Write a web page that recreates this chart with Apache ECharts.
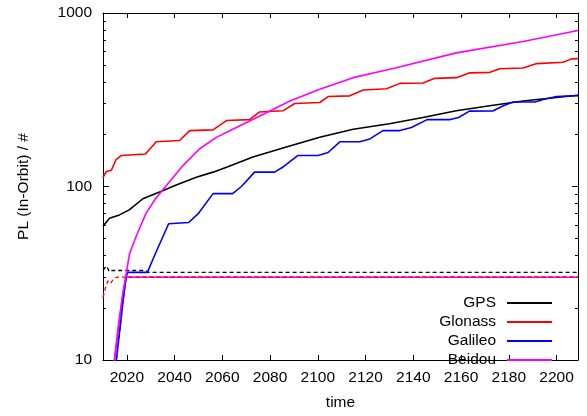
<!DOCTYPE html>
<html>
<head>
<meta charset="utf-8">
<script src="https://cdn.jsdelivr.net/npm/echarts@6/dist/echarts.min.js"></script>
<style>
  html, body { margin: 0; padding: 0; background: #fff; }
  #chart { width: 587px; height: 416px; }
</style>
</head>
<body>
<div id="chart"></div>
<script>
// tick labels
var xTicks = [2020, 2040, 2060, 2080, 2100, 2120, 2140, 2160, 2180, 2200];
var yTicks = [10, 100, 1000];
var yMinorTicks = [20, 30, 40, 50, 60, 70, 80, 90, 200, 300, 400, 500, 600, 700, 800, 900];

// PL in orbit, [year, count]
var gps = [[2010, 59], [2012.7, 65.6], [2016.9, 68.6], [2021, 73.3], [2026.7, 85], [2033.7, 93],
    [2040.7, 102], [2049.1, 113], [2056.1, 121], [2062.3, 130], [2072.8, 148], [2086.8, 169],
    [2100.8, 192], [2114.8, 214], [2130, 230], [2144, 250], [2158, 273], [2172, 292], [2186, 311], [2209, 336]];
var glonass = [[2010, 113], [2011.4, 122], [2013.5, 124], [2015.5, 143], [2017.7, 151], [2027.8, 154],
    [2032.3, 181], [2042.1, 184], [2046.3, 210], [2056.1, 212], [2061.7, 240], [2071.4, 243],
    [2075.6, 269], [2085.4, 273], [2090.3, 301], [2100.8, 305], [2104.3, 330], [2113.4, 333],
    [2119, 360], [2128.8, 366], [2134.4, 393], [2144.1, 395], [2149, 420], [2158.1, 424],
    [2163.7, 452], [2172.1, 455], [2176.2, 477], [2186, 482], [2191.7, 511], [2202.8, 520],
    [2206.3, 544], [2209, 546]];
var galileo = [[2014, 7], [2015.6, 10], [2018.6, 23], [2019.7, 30], [2020.3, 32], [2028.6, 32],
    [2031.6, 40], [2037.5, 61], [2045.9, 62], [2049.8, 69.5], [2056.1, 91], [2064.3, 91],
    [2068, 100], [2073.5, 121], [2081.9, 121], [2085.6, 130], [2091.7, 151], [2100.1, 151],
    [2104.3, 157], [2109.2, 181], [2117.6, 181], [2121.8, 188], [2127.3, 210], [2134.4, 210],
    [2139.2, 219], [2145.8, 243], [2155.5, 243], [2159, 250], [2163.5, 272], [2173.5, 273],
    [2177.7, 292], [2181.8, 307], [2191, 307], [2194.4, 317], [2200, 330], [2209, 334]];
var beidou = [[2013.5, 7], [2014.8, 10], [2016.5, 16], [2018.1, 23], [2019.5, 30], [2021.1, 41],
    [2024, 52], [2028, 70], [2032, 85], [2036.5, 101], [2043.5, 132], [2050.5, 165],
    [2057.5, 192], [2064.4, 214], [2075.7, 255], [2088.3, 311], [2100.8, 363], [2114.8, 424],
    [2132, 480], [2158, 589], [2186, 685], [2209, 793]];

// dashed reference lines
var gpsRef = [[2010, 33], [2011.5, 34.8], [2012.7, 32.2], [2014, 32.8], [2028, 32.8], [2029, 32], [2209, 32]];
var glonassRef = [[2010, 23], [2011, 26], [2012, 28.5], [2013.2, 27.6], [2014.5, 29.5], [2016, 30], [2209, 30]];
var galileoRef = [[2014, 7], [2015.6, 10], [2018.6, 23], [2019.7, 30], [2209, 30]];
var beidouRef = [[2013.5, 7], [2014.8, 10], [2018.1, 23], [2019.5, 30], [2209, 30]];

var font = 'Liberation Sans, Arial, sans-serif';
var lg = function (v) { return Math.log10(v); };

function line(name, data, color, dashed) {
    return {
        name: name,
        type: 'line',
        // y is plotted on a log10 value axis
        data: data.map(function (p) { return [p[0], lg(p[1])]; }),
        symbol: 'none',
        clip: true,
        animation: false,
        lineStyle: { color: color, width: dashed ? 1.3 : 1.6, type: dashed ? [4, 3] : 'solid' },
        itemStyle: { color: color }
    };
}

function yAx(pos, minor, labels) {
    return {
        type: 'value', min: 1, max: 3, position: pos,
        axisLine: { show: !minor, lineStyle: { color: '#000', width: 1 } },
        axisTick: {
            show: true, inside: true, length: minor ? 3 : 6,
            customValues: (minor ? yMinorTicks : yTicks).map(lg),
            lineStyle: { color: '#000' }
        },
        axisLabel: {
            show: labels, color: '#000', fontSize: 15.5, fontFamily: font, margin: 11,
            customValues: yTicks.map(lg),
            formatter: function (v) { return String(Math.round(Math.pow(10, v))); }
        },
        splitLine: { show: false }
    };
}

var chart = echarts.init(document.getElementById('chart'), null, { renderer: 'canvas' });
chart.setOption({
    backgroundColor: '#fff',
    animation: false,
    grid: { left: 103, right: 9, top: 13, bottom: 53 },
    legend: {
        data: ['GPS', 'Glonass', 'Galileo', 'Beidou'],
        orient: 'vertical',
        align: 'right',
        right: 29,
        top: 290,
        itemWidth: 45,
        itemHeight: 14,
        itemGap: 3,
        itemStyle: { opacity: 0 },
        textStyle: { color: '#000', fontSize: 15.5, fontFamily: font, padding: [0, 6, 0, 0] }
    },
    xAxis: [{
        type: 'value', min: 2010, max: 2209, position: 'bottom',
        name: 'time', nameLocation: 'middle', nameGap: 35,
        nameTextStyle: { color: '#000', fontSize: 15.5, fontFamily: font },
        axisLine: { lineStyle: { color: '#000', width: 1 } },
        axisTick: { inside: true, length: 5, customValues: xTicks, lineStyle: { color: '#000' } },
        axisLabel: {
            color: '#000', fontSize: 15.5, fontFamily: font, margin: 10, customValues: xTicks,
            formatter: function (v) { return String(v); }
        },
        splitLine: { show: false }
    }, {
        type: 'value', min: 2010, max: 2209, position: 'top',
        axisLine: { lineStyle: { color: '#000', width: 1 } },
        axisTick: { inside: true, length: 5, customValues: xTicks, lineStyle: { color: '#000' } },
        axisLabel: { show: false },
        splitLine: { show: false }
    }],
    yAxis: [
        Object.assign(yAx('left', false, true), {
            name: 'PL (In-Orbit) / #', nameLocation: 'middle', nameGap: 71,
            nameTextStyle: { color: '#000', fontSize: 15.5, fontFamily: font }
        }),
        yAx('left', true, false),
        yAx('right', false, false),
        yAx('right', true, false)
    ],
    series: [
        line('Galileo ref', galileoRef, '#0000ff', true),
        line('Beidou ref', beidouRef, '#ff00ff', false),
        line('Glonass ref', glonassRef, '#ff0000', true),
        line('GPS ref', gpsRef, '#000000', true),
        line('GPS', gps, '#000000', false),
        line('Glonass', glonass, '#ff0000', false),
        line('Galileo', galileo, '#0000ff', false),
        line('Beidou', beidou, '#ff00ff', false)
    ]
});
</script>
</body>
</html>
